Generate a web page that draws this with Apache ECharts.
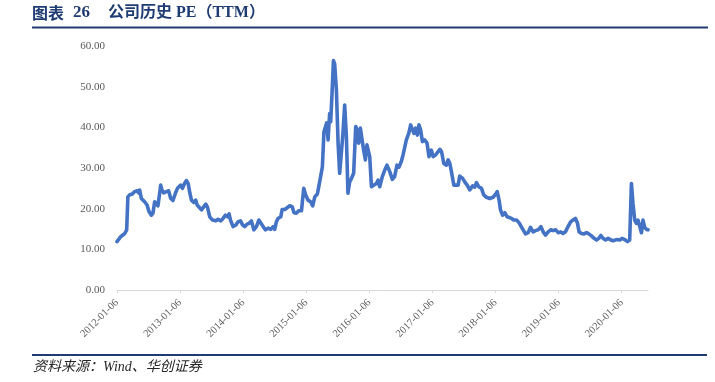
<!DOCTYPE html>
<html>
<head>
<meta charset="utf-8">
<script src="https://cdn.jsdelivr.net/npm/echarts@6/dist/echarts.min.js"></script>
<style>
html,body{margin:0;padding:0;background:#fff;}
#c{width:715px;height:382px;}
</style>
</head>
<body>
<div id="c"></div>
<script>
const titleNo = "图表";
const titleNum = "26";
const titleText = "公司历史 PE（TTM）";
const sourceText = "资料来源：Wind、华创证券";
const tickYears = [2012, 2013, 2014, 2015, 2016, 2017, 2018, 2019, 2020];
const yTicks = [0, 10, 20, 30, 40, 50, 60];

const dates = [
"2012-01-06","2012-01-27","2012-02-20","2012-03-02","2012-03-09","2012-03-20","2012-04-04","2012-04-17","2012-05-01","2012-05-12","2012-05-16","2012-05-26","2012-06-05","2012-06-14","2012-06-28","2012-07-09","2012-07-23","2012-08-01","2012-08-11","2012-08-21","2012-08-30","2012-09-09","2012-09-15","2012-09-22","2012-10-02","2012-10-18","2012-10-31","2012-11-12","2012-11-25","2012-12-09","2012-12-21","2012-12-30",
"2013-01-09","2013-01-19","2013-01-31","2013-02-11","2013-02-21","2013-03-03","2013-03-12","2013-03-26","2013-04-06","2013-04-14","2013-04-25","2013-05-09","2013-05-23","2013-06-03","2013-06-13","2013-06-26","2013-07-12","2013-07-31","2013-08-13","2013-08-29","2013-09-11","2013-09-25","2013-10-07","2013-10-16","2013-10-24","2013-11-08","2013-11-24","2013-12-07","2013-12-21",
"2014-01-02","2014-01-15","2014-01-28","2014-02-09","2014-02-22","2014-03-08","2014-03-23","2014-04-06","2014-04-17","2014-05-01","2014-05-15","2014-05-30","2014-06-14","2014-06-28","2014-07-07","2014-07-17","2014-07-26","2014-08-11","2014-08-19","2014-09-03","2014-09-19","2014-10-02","2014-10-16","2014-10-27","2014-11-10","2014-11-23","2014-12-09","2014-12-22",
"2015-01-02","2015-01-16","2015-01-31","2015-02-12","2015-02-24","2015-03-11","2015-03-19","2015-03-30","2015-04-09","2015-04-18","2015-04-28","2015-05-04","2015-05-12","2015-05-21","2015-05-27","2015-06-04","2015-06-12","2015-06-19","2015-06-29","2015-07-09","2015-07-18","2015-07-28","2015-08-06","2015-08-16","2015-08-26","2015-09-04","2015-09-14","2015-09-24","2015-10-07","2015-10-19","2015-10-29","2015-11-05","2015-11-15","2015-11-25","2015-12-04","2015-12-14","2015-12-23",
"2016-01-02","2016-01-08","2016-01-18","2016-02-02","2016-02-16","2016-02-25","2016-03-06","2016-03-15","2016-03-21","2016-04-04","2016-04-17","2016-05-03","2016-05-18","2016-05-31","2016-06-14","2016-06-25","2016-07-09","2016-07-19","2016-07-30","2016-08-07","2016-08-21","2016-09-01","2016-09-11","2016-09-20","2016-09-30","2016-10-10","2016-10-19","2016-10-29","2016-11-08","2016-11-21","2016-12-05","2016-12-16","2016-12-30",
"2017-01-09","2017-01-23","2017-02-01","2017-02-17","2017-02-27","2017-03-12","2017-03-27","2017-04-06","2017-04-16","2017-04-25","2017-05-09","2017-05-20","2017-06-03","2017-06-12","2017-06-28","2017-07-11","2017-07-25","2017-08-09","2017-08-25","2017-09-07","2017-09-17","2017-09-30","2017-10-16","2017-10-29","2017-11-14","2017-12-03","2017-12-22",
"2018-01-07","2018-01-15","2018-01-26","2018-02-03","2018-02-15","2018-02-28","2018-03-14","2018-03-25","2018-04-08","2018-04-21","2018-05-07","2018-05-22","2018-06-01","2018-06-14","2018-06-28","2018-07-13","2018-07-27","2018-08-11","2018-08-25","2018-09-09","2018-09-25","2018-10-08","2018-10-22","2018-11-06","2018-11-22","2018-12-05","2018-12-19",
"2019-01-03","2019-01-18","2019-01-31","2019-02-14","2019-03-01","2019-03-17","2019-03-30","2019-04-13","2019-04-25","2019-05-04","2019-05-18","2019-06-02","2019-06-16","2019-06-29","2019-07-15","2019-07-30","2019-08-13","2019-08-26","2019-09-07","2019-09-20","2019-10-04","2019-10-19","2019-11-04","2019-11-17","2019-12-07","2019-12-26",
"2020-01-08","2020-01-23","2020-02-08","2020-02-21","2020-03-02","2020-03-11","2020-03-21","2020-03-31","2020-04-09","2020-04-19","2020-04-29","2020-05-08","2020-05-18","2020-05-28","2020-06-06"
];
const pe = [
11.9,13.1,13.9,14.8,22.9,23.4,23.6,24.2,24.4,23.8,24.6,22.5,22.9,21.7,20.9,19.3,18.4,18.9,21.7,22.1,20.7,23.8,25.8,24.6,23.9,24.2,24.4,22.5,22.0,23.8,25.0,24.6,
25.8,25.0,26.2,26.9,26.2,23.8,22.1,21.5,22.1,20.9,20.5,19.7,20.5,21.1,20.3,18.0,17.2,17.0,17.4,17.0,17.6,18.4,18.0,18.7,17.2,15.6,16.0,16.8,17.0,
16.0,15.6,16.2,16.4,17.0,14.8,15.6,17.2,17.4,15.6,14.8,15.2,14.9,15.6,14.9,16.8,17.6,18.0,19.8,19.8,20.3,20.7,20.5,19.0,18.9,19.5,19.5,25.0,
23.4,22.1,21.7,20.7,22.9,23.6,25.4,27.9,30.3,38.9,39.3,41.1,36.9,43.4,41.4,48.4,56.4,55.6,49.2,36.1,28.7,29.1,38.5,45.5,37.7,23.8,26.6,27.4,28.7,40.2,39.3,36.1,39.8,36.9,34.4,32.0,35.7,
35.3,32.8,25.4,25.8,26.2,27.0,25.4,25.0,27.9,29.5,30.7,29.1,27.2,27.9,30.7,30.2,31.6,33.2,33.6,36.9,38.5,40.6,40.8,38.5,39.8,38.1,40.6,39.3,36.5,36.9,36.1,32.8,34.4,
32.8,33.2,32.8,34.6,34.0,31.1,30.7,32.0,31.1,29.1,25.8,25.8,25.8,28.0,27.5,26.6,25.8,24.6,25.6,25.3,26.4,25.4,25.0,23.4,22.8,22.5,22.8,
23.6,24.2,22.1,19.7,18.4,19.0,18.0,18.2,17.6,17.2,17.2,16.5,16.8,14.8,13.8,14.1,15.4,14.3,14.6,14.8,15.6,14.3,13.5,14.3,14.8,14.6,14.8,
14.1,14.3,13.9,14.3,15.6,16.8,17.2,17.6,16.4,14.3,13.9,13.8,14.1,13.8,13.3,12.7,12.3,12.7,13.4,12.7,12.3,12.7,12.3,12.1,12.4,12.3,
12.7,12.4,11.9,12.3,26.2,21.3,17.2,16.4,17.2,17.6,14.1,17.2,15.4,14.9,14.8
];

const baseTs = Date.UTC(2012, 0, 6);
const yearMs = 365.25 * 86400000;
const toYears = d => (Date.parse(d) - baseTs) / yearMs;
const seriesData = dates.map((d, i) => [toYears(d), pe[i]]);
const xMax = seriesData[seriesData.length - 1][0];
const tickPos = tickYears.map(y => y - tickYears[0]);

const chart = echarts.init(document.getElementById('c'), null, {renderer: 'canvas'});
const serif = '"Liberation Serif", "Times New Roman", serif';
const navy = '#1F3B73';
chart.setOption({
  animation: false,
  backgroundColor: '#ffffff',
  grid: {left: 117, right: 67, top: 46, bottom: 92, containLabel: false},
  xAxis: {
    type: 'value',
    min: 0,
    max: xMax,
    interval: 1,
    axisLine: {show: true, lineStyle: {color: '#D9D9D9', width: 1}},
    axisTick: {show: true, length: 3, lineStyle: {color: '#D9D9D9'}, customValues: tickPos},
    splitLine: {show: false},
    axisLabel: {
      customValues: tickPos,
      rotate: 45,
      margin: 11,
      color: '#595959',
      fontFamily: serif,
      fontSize: 10.5,
      formatter: v => (tickYears[0] + Math.round(v)) + '-01-06'
    }
  },
  yAxis: {
    type: 'value',
    min: yTicks[0],
    max: yTicks[yTicks.length - 1],
    interval: 10,
    axisLine: {show: false},
    axisTick: {show: false},
    splitLine: {show: false},
    axisLabel: {
      margin: 12,
      color: '#595959',
      fontFamily: serif,
      fontSize: 11,
      formatter: v => v.toFixed(2)
    }
  },
  series: [{
    type: 'line',
    data: seriesData,
    showSymbol: false,
    symbol: 'none',
    lineStyle: {color: '#4472C4', width: 3.6, join: 'round', cap: 'round'},
    itemStyle: {color: '#4472C4'}
  }],
  graphic: [
    {type: 'text', left: 32, top: 5, style: {text: titleNo, font: 'bold 16px "Noto Sans CJK SC", sans-serif', fill: navy}},
    {type: 'text', left: 73, top: 4, style: {text: titleNum, font: 'bold 17px ' + serif, fill: navy}},
    {type: 'text', left: 108, top: 5, style: {text: titleText, font: 'bold 16px "Liberation Serif", "Noto Sans CJK SC", serif', fill: navy}},
    {type: 'line', shape: {x1: 32, y1: 27.5, x2: 708, y2: 27.5}, style: {stroke: navy, lineWidth: 2}},
    {type: 'line', shape: {x1: 32, y1: 355, x2: 707, y2: 355}, style: {stroke: navy, lineWidth: 2}},
    {type: 'text', left: 33, top: 360, style: {text: sourceText, font: 'italic 14px "Liberation Serif", "Noto Sans CJK SC", serif', fill: '#262626'}}
  ]
});
</script>
</body>
</html>
